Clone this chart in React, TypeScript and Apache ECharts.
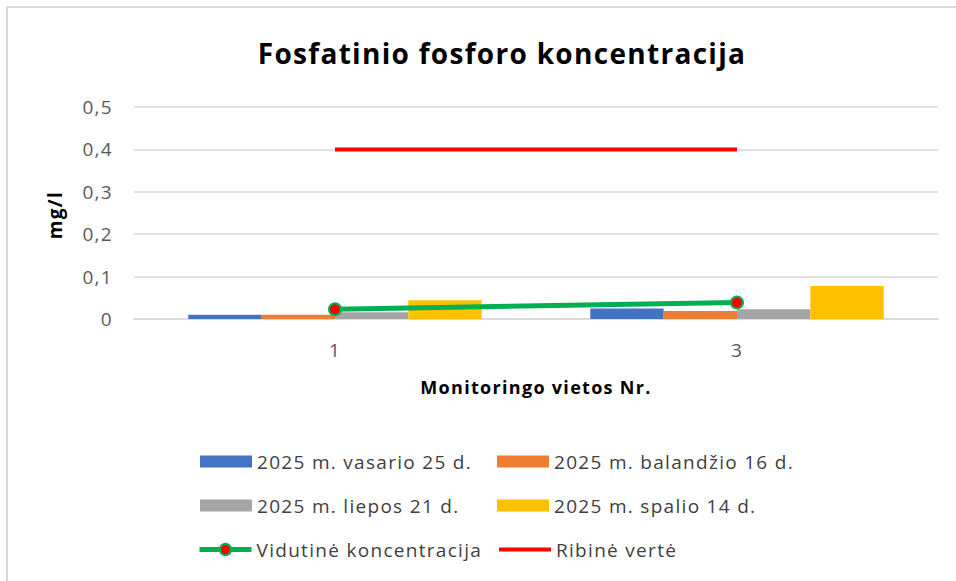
import React, { useEffect, useRef } from "react";
import * as echarts from "echarts";

const categories = ["1", "3"];
const feb25 = [0.01, 0.025];
const apr16 = [0.01, 0.019];
const jul21 = [0.016, 0.023];
const oct14 = [0.044, 0.078];
const average = [0.023, 0.039];
const limit = [0.4, 0.4];
const seriesNames = [
  "2025 m. vasario 25 d.",
  "2025 m. balandžio 16 d.",
  "2025 m. liepos 21 d.",
  "2025 m. spalio 14 d.",
  "Vidutinė koncentracija",
  "Ribinė vertė",
];

const FONT = "'Open Sans', Lato, sans-serif";

export default function App() {
  const ref = useRef<HTMLDivElement>(null);
  useEffect(() => {
    if (!ref.current) return;
    const chart = echarts.init(ref.current, undefined, { renderer: "svg" });
    const legendPos = [
      [200, 452],
      [497, 452],
      [200, 496],
      [497, 496],
      [197, 540],
      [497, 540],
    ];
    const legends = seriesNames.map((n, i) => {
      const l: any = {
        data: [n],
        left: legendPos[i][0],
        top: legendPos[i][1],
        itemWidth: 52,
        itemHeight: 12,
        itemGap: 6,
        padding: 0,
        textStyle: { fontFamily: FONT, fontSize: 19, color: "#404040" },
        selectedMode: false,
      };
      if (i < 4) l.icon = "rect";
      if (i === 4) {
        l.lineStyle = { width: 5, color: "#00b050" };
        l.itemHeight = 14;
      }
      if (i === 5) {
        l.lineStyle = { width: 4, color: "#ff0000" };
        l.itemStyle = { opacity: 0 };
      }
      return l;
    });
    const option: any = {
      animation: false,
      backgroundColor: "#ffffff",
      textStyle: { fontFamily: FONT },
      title: {
        text: "Fosfatinio fosforo koncentracija",
        left: 497,
        textAlign: "center",
        top: 34,
        textStyle: { fontFamily: FONT, fontSize: 28, fontWeight: "bold", color: "#000000" },
      },
      legend: legends,
      grid: { left: 134, right: 18, top: 107, bottom: 262, containLabel: false },
      xAxis: {
        type: "category",
        data: categories,
        axisLine: { lineStyle: { color: "#d9d9d9", width: 1.5 } },
        axisTick: { show: false },
        axisLabel: { fontFamily: FONT, fontSize: 19, color: "#595959", margin: 21 },
        name: "Monitoringo vietos Nr.",
        nameLocation: "middle",
        nameGap: 59,
        nameTextStyle: { fontFamily: FONT, fontSize: 18, fontWeight: "bold", color: "#000000", verticalAlign: "top" },
      },
      yAxis: {
        type: "value",
        min: 0,
        max: 0.5,
        interval: 0.1,
        axisLine: { show: false },
        axisTick: { show: false },
        splitLine: { lineStyle: { color: "#d9d9d9", width: 1.5 } },
        axisLabel: {
          fontFamily: FONT,
          fontSize: 19,
          color: "#595959",
          margin: 21,
          formatter: (v: number) => (v === 0 ? "0" : v.toFixed(1).replace(".", ",")),
        },
      },
      graphic: [
        { type: "line", shape: { x1: 7, y1: 7, x2: 956, y2: 7 }, style: { stroke: "#d9d9d9", lineWidth: 2 } },
        { type: "line", shape: { x1: 7, y1: 7, x2: 7, y2: 581 }, style: { stroke: "#d9d9d9", lineWidth: 2 } },
        {
          type: "text",
          x: 55,
          y: 215,
          rotation: Math.PI / 2,
          style: {
            text: "mg/l",
            align: "center",
            verticalAlign: "middle",
            font: "bold 19px " + FONT,
            fill: "#000000",
          },
        },
      ],
      series: [
        { name: seriesNames[0], type: "bar", data: feb25, barGap: "0%", barCategoryGap: "27%", itemStyle: { color: "#4472c4" } },
        { name: seriesNames[1], type: "bar", data: apr16, itemStyle: { color: "#ed7d31" } },
        { name: seriesNames[2], type: "bar", data: jul21, itemStyle: { color: "#a5a5a5" } },
        { name: seriesNames[3], type: "bar", data: oct14, itemStyle: { color: "#ffc000" } },
        {
          name: seriesNames[4],
          type: "line",
          data: average,
          z: 5,
          symbol: "circle",
          symbolSize: 12,
          lineStyle: { color: "#00b050", width: 5 },
          itemStyle: { color: "#ff0000", borderColor: "#00b050", borderWidth: 2 },
        },
        {
          name: seriesNames[5],
          type: "line",
          data: limit,
          z: 4,
          symbol: "none",
          lineStyle: { color: "#ff0000", width: 4 },
          itemStyle: { color: "#ff0000" },
        },
      ],
    };
    chart.setOption(option);
    return () => chart.dispose();
  }, []);
  return (
    <>
      <style>{"#chart-box svg text { letter-spacing: 1.3px; }"}</style>
      <div
        id="chart-box"
        ref={ref}
        style={{ position: "fixed", left: 0, top: 0, width: 956, height: 581, background: "#fff" }}
      />
    </>
  );
}
